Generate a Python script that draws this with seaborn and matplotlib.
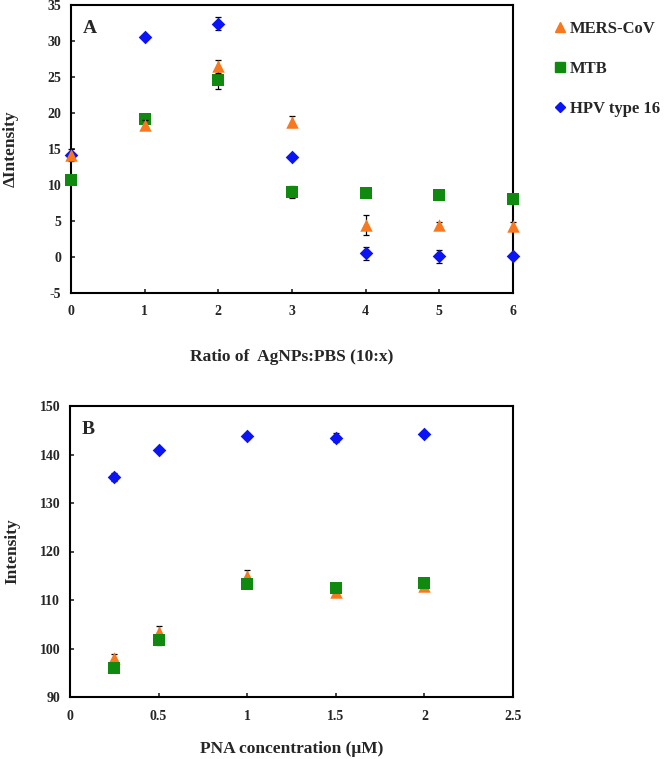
import numpy as np
import pandas as pd
import matplotlib
matplotlib.use("Agg")
import matplotlib.pyplot as plt
from matplotlib.lines import Line2D
import seaborn as sns

# ---------------- data ----------------
ratio_x = [0, 1, 2, 3, 4, 5, 6]
mers_a = [14.2, 18.4, 26.5, 18.8, 4.5, 4.5, 4.3]
mers_a_err = [0.8, 0.6, 0.9, 0.8, 1.4, 0.3, 0.5]
mtb_a = [10.7, 19.1, 24.6, 9.0, 8.9, 8.6, 8.1]
mtb_a_err = [0.4, 0.4, 1.2, 0.8, 0.3, 0.3, 0.3]
hpv_a = [14.2, 30.6, 32.4, 13.9, 0.5, 0.1, 0.1]
hpv_a_err = [0.3, 0.3, 0.9, 0.3, 0.9, 0.9, 0.3]

pna_x = [0.25, 0.5, 1, 1.5, 2]
mers_b = [98.0, 103.5, 115.0, 111.6, 112.8]
mers_b_err = [0.8, 1.2, 1.2, 0.3, 0.3]
mtb_b = [96.0, 101.8, 113.4, 112.4, 113.6]
mtb_b_err = [0.4, 1.0, 0.5, 0.4, 0.3]
hpv_b = [135.4, 140.9, 143.8, 143.5, 144.2]
hpv_b_err = [0.8, 0.3, 0.6, 1.0, 0.3]

series_names = ["MERS-CoV", "MTB", "HPV type 16"]
colors = {"MERS-CoV": "#F7781E", "MTB": "#10890F", "HPV type 16": "#0A14F5"}
markers = {"MERS-CoV": "^", "MTB": "s", "HPV type 16": "D"}
sizes = {"MERS-CoV": 80, "MTB": 80, "HPV type 16": 48}

sns.set_style("white")
plt.rcParams["font.family"] = ["Liberation Serif", "DejaVu Serif"]
plt.rcParams["font.weight"] = "bold"

fig = plt.figure(figsize=(6.68, 7.59), dpi=100)
axA = fig.add_axes([71 / 668, 1 - 293 / 759, 442 / 668, 288 / 759])
axB = fig.add_axes([70 / 668, 1 - 697 / 759, 443 / 668, 291 / 759])


def draw(ax, x, vals, errs, name, z):
    df = pd.DataFrame({"x": x, "y": vals})
    eb = ax.errorbar(x, vals, yerr=errs, fmt="none", ecolor="black",
                     elinewidth=0.9, capsize=2.5, capthick=0.9, zorder=z)
    for art in eb.lines[1] + eb.lines[2]:
        art.set_clip_on(False)
    sns.scatterplot(data=df, x="x", y="y", ax=ax, color=colors[name],
                    marker=markers[name], s=sizes[name], linewidth=0,
                    zorder=z + 0.5, legend=False, clip_on=False)


draw(axA, ratio_x, hpv_a, hpv_a_err, "HPV type 16", 3)
draw(axA, ratio_x, mtb_a, mtb_a_err, "MTB", 4)
draw(axA, ratio_x, mers_a, mers_a_err, "MERS-CoV", 5)

draw(axB, pna_x, hpv_b, hpv_b_err, "HPV type 16", 3)
draw(axB, pna_x, mers_b, mers_b_err, "MERS-CoV", 4)
draw(axB, pna_x, mtb_b, mtb_b_err, "MTB", 5)

for ax in (axA, axB):
    for sp in ax.spines.values():
        sp.set_visible(True)
        sp.set_color("black")
        sp.set_linewidth(1.5)
        sp.set_zorder(2)
    ax.tick_params(axis="x", direction="in", length=3, width=1.2,
                   labelsize=10, pad=9, bottom=True)
    ax.tick_params(axis="y", direction="in", length=3, width=1.2,
                   labelsize=10, pad=7, left=True)

axA.set_xlim(0, 6)
axA.set_ylim(-5, 35)
axA.set_xticks(range(0, 7))
axA.set_yticks(range(-5, 36, 5))
axA.set_xticklabels([str(v) for v in range(0, 7)], fontweight="bold")
axA.set_yticklabels([str(v) for v in range(-5, 36, 5)], fontweight="bold")
axA.set_xlabel("Ratio of  AgNPs:PBS (10:x)", fontsize=12.5, fontweight="bold")
axA.set_ylabel("ΔIntensity", fontsize=12.5, fontweight="bold")
axA.xaxis.set_label_coords(0.5, -0.195)
axA.yaxis.set_label_coords(-0.118, 0.5)
axA.text(0.027, 0.948, "A", transform=axA.transAxes, fontsize=14,
         fontweight="bold", va="top", ha="left")

axB.set_xlim(0, 2.5)
axB.set_ylim(90, 150)
xt = [0, 0.5, 1, 1.5, 2, 2.5]
axB.set_xticks(xt)
axB.set_xticklabels(["0", "0.5", "1", "1.5", "2", "2.5"], fontweight="bold")
axB.set_yticks(range(90, 151, 10))
axB.set_yticklabels([str(v) for v in range(90, 151, 10)], fontweight="bold")
axB.set_xlabel("PNA concentration (μM)", fontsize=12.5, fontweight="bold")
axB.set_ylabel("Intensity", fontsize=12.5, fontweight="bold")
axB.xaxis.set_label_coords(0.5, -0.152)
axB.yaxis.set_label_coords(-0.112, 0.5)
axB.text(0.027, 0.948, "B", transform=axB.transAxes, fontsize=14,
         fontweight="bold", va="top", ha="left")

handles = [Line2D([], [], linestyle="none", marker=markers[n], color=colors[n],
                  markersize=7 if n != "HPV type 16" else 5.5) for n in series_names]
fig.legend(handles, series_names, loc="upper left",
           bbox_to_anchor=(545 / 668, 1 - 14 / 759), frameon=False,
           prop={"weight": "bold", "size": 12}, labelspacing=1.45,
           handletextpad=0.1, handlelength=1.0, borderaxespad=0)

fig.savefig("out.png", dpi=100)
